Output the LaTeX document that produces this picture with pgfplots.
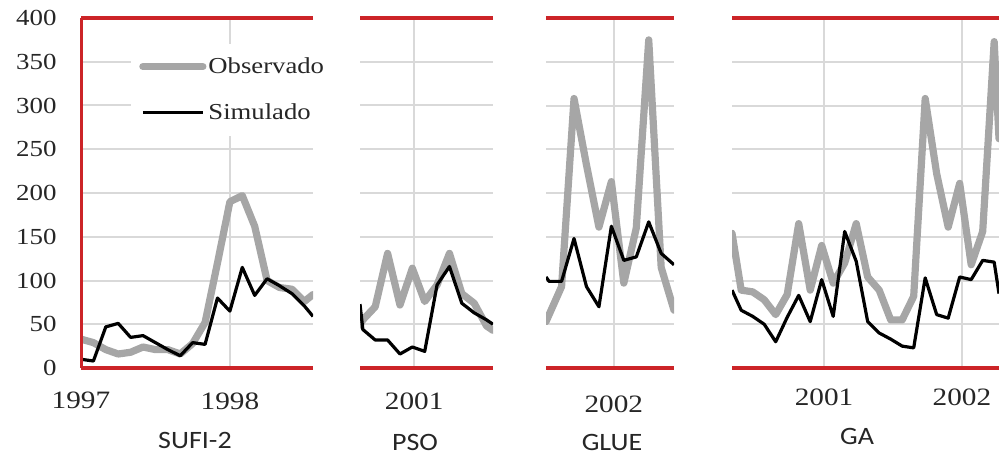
\documentclass[border=0pt]{standalone}
\usepackage{fontspec}
\usepackage{pgfplots}
\pgfplotsset{compat=1.18}
\newfontfamily\tickfont[FakeStretch=1.17]{Liberation Serif}
\newfontfamily\titlefont[FakeStretch=1.12]{Carlito}
\definecolor{redline}{RGB}{204,36,40}
\definecolor{gridc}{RGB}{217,217,217}
\definecolor{obs}{RGB}{166,166,166}
\definecolor{txt}{RGB}{38,38,38}

\tikzset{
  obsline/.style={obs, line width=3.6pt, line join=round, line cap=round},
  simline/.style={black, line width=1.6pt, line join=round},
  redhl/.style={redline, line width=2pt},
  xlab/.style={font=\tickfont\fontsize{12.5}{14}\selectfont, text=txt, anchor=north, inner sep=0pt},
}
\pgfplotsset{
  panel/.style={
    scale only axis, height=175pt, anchor=south west,
    ymin=0, ymax=400, ytick={0,50,...,400},
    axis line style={draw=none}, major tick length=0pt,
    grid=major, major grid style={gridc, line width=1pt},
    yticklabels={},
    clip mode=individual,
    xticklabel style={font=\tickfont\fontsize{12.5}{14}\selectfont, text=txt, anchor=north, inner sep=0pt},
  },
}

\pgfplotstableread{
x y
0 33
1 29
2 21
3 16
4 18
5 24
6 21
7 21
8 16
9 28
10 52
11 120
12 190
13 197
14 162
15 100
16 92
17 90
18 76
18.7 84
}\sufiobs
\pgfplotstableread{
x y
0 10
1 8
2 47
3 51
4 35
5 37
6 29
7 21
8 14
9 29
10 27
11 80
12 65
13 115
14 83
15 102
16 94
17 85
18 71
18.7 59
}\sufisim
\pgfplotstableread{
x y
-4.38 49
-4.15 55
-3.15 70
-2.15 131
-1.15 72
-0.15 114
0.85 76
1.85 95
2.85 131
3.85 85
4.85 74
5.85 48
6.37 43
}\psoobs
\pgfplotstableread{
x y
-4.38 73
-4.15 44
-3.15 32
-2.15 32
-1.15 16
-0.15 24
0.85 19
1.85 95
2.85 116
3.85 74
4.85 63
5.85 55
6.37 50
}\psosim
\pgfplotstableread{
x y
-5.45 53
-4.2 93
-3.2 308
-2.2 232
-1.2 161
-0.2 213
0.8 97
1.8 160
2.8 375
3.8 115
4.83 66
}\glueobs
\pgfplotstableread{
x y
-5.45 104
-5.2 99
-4.2 99
-3.2 148
-2.2 93
-1.2 70
-0.2 162
0.8 123
1.8 127
2.8 167
3.8 131
4.83 118
}\gluesim
\pgfplotstableread{
x y
-8 154
-7.2 89
-6.2 87
-5.2 78
-4.2 61
-3.2 84
-2.2 165
-1.2 89
-0.2 140
0.8 97
1.8 120
2.8 165
3.8 104
4.8 89
5.8 55
6.8 55
7.8 82
8.8 308
9.8 222
10.8 161
11.8 211
12.8 118
13.8 156
14.8 373
15.22 262
}\gaobs
\pgfplotstableread{
x y
-8 89
-7.2 66
-6.2 59
-5.2 50
-4.2 30
-3.2 58
-2.2 83
-1.2 53
-0.2 101
0.8 59
1.8 156
2.8 122
3.8 53
4.8 40
5.8 33
6.8 25
7.8 23
8.8 103
9.8 61
10.8 57
11.8 104
12.8 101
13.8 123
14.8 121
15.22 85
}\gasim

\begin{document}
\begin{tikzpicture}
\useasboundingbox (0,0) rectangle (499.5pt,-227pt);

% SUFI-2
\begin{axis}[panel, at={(40.5pt,-184pt)}, width=116pt,
  xmin=0, xmax=18.7, xtick={0,12}, xticklabels={},
  yticklabels={0,50,100,150,200,250,300,350,400},
  yticklabel style={font=\tickfont\fontsize{11.5}{13}\selectfont, text=txt, anchor=east, inner sep=0pt},
  yticklabel shift=12pt,
  legend style={at={(0.215,0.928)}, anchor=north west, draw=none, fill=white,
    inner xsep=4pt, inner ysep=6pt,
    font=\tickfont\fontsize{11.4}{13}\selectfont, text=txt,
    nodes={inner sep=1pt, text height=8pt, text depth=1pt},
    row sep=12pt, column sep=0pt},
  legend cell align=left,
  legend image code/.code={\draw[#1] (0pt,0pt) -- (30pt,0pt);},
]
\addplot[obsline] table[x=x,y=y]{\sufiobs};
\addlegendentry{Observado}
\addplot[simline] table[x=x,y=y]{\sufisim};
\addlegendentry{Simulado}
\draw[redhl] (rel axis cs:0,0) -- (rel axis cs:1,0);
\draw[redhl] (rel axis cs:0,1) -- (rel axis cs:1,1);
\draw[redline, line width=1.5pt] (rel axis cs:0,0) -- (rel axis cs:0,1);
\node[xlab, yshift=-12pt] at (axis cs:0,0) {1997};
\node[xlab, yshift=-12pt] at (axis cs:12,0) {1998};
\end{axis}

% PSO
\begin{axis}[panel, at={(180pt,-184pt)}, width=66.5pt,
  xmin=-4.38, xmax=6.37, xtick={0}, xticklabels={2001},
  xticklabel shift=12pt]
\addplot[obsline] table[x=x,y=y]{\psoobs};
\addplot[simline] table[x=x,y=y]{\psosim};
\draw[redhl] (rel axis cs:0,0) -- (rel axis cs:1,0);
\draw[redhl] (rel axis cs:0,1) -- (rel axis cs:1,1);
\end{axis}

% GLUE
\begin{axis}[panel, at={(273pt,-184pt)}, width=64pt,
  xmin=-5.45, xmax=4.83, xtick={0}, xticklabels={2002},
  xticklabel shift=13.5pt]
\addplot[obsline] table[x=x,y=y]{\glueobs};
\addplot[simline] table[x=x,y=y]{\gluesim};
\draw[redhl] (rel axis cs:0,0) -- (rel axis cs:1,0);
\draw[redhl] (rel axis cs:0,1) -- (rel axis cs:1,1);
\end{axis}

% GA
\begin{axis}[panel, at={(366pt,-184pt)}, width=133.5pt,
  xmin=-8, xmax=15.22, xtick={0,12}, xticklabels={2001,2002},
  xticklabel shift=10pt]
\addplot[obsline] table[x=x,y=y]{\gaobs};
\addplot[simline] table[x=x,y=y]{\gasim};
\draw[redhl] (rel axis cs:0,0) -- (rel axis cs:1,0);
\draw[redhl] (rel axis cs:0,1) -- (rel axis cs:1,1);
\end{axis}

\node[font=\titlefont\fontsize{12.5}{14}\selectfont, text=txt] at (97.5pt,-220pt) {SUFI-2};
\node[font=\titlefont\fontsize{12.5}{14}\selectfont, text=txt] at (207.5pt,-221pt) {PSO};
\node[font=\titlefont\fontsize{12.5}{14}\selectfont, text=txt] at (306pt,-221pt) {GLUE};
\node[font=\titlefont\fontsize{12.5}{14}\selectfont, text=txt] at (428.5pt,-218pt) {GA};
\end{tikzpicture}
\end{document}
